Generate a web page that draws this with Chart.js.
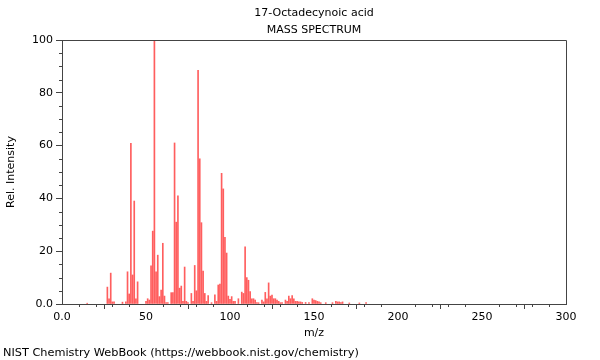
<!DOCTYPE html>
<html>
<head>
<meta charset="utf-8">
<script src="https://cdn.jsdelivr.net/npm/chart.js@4"></script>
<style>
  body { margin: 0; background: #fff; }
  #wrap { width: 600px; height: 360px; position: relative; }
</style>
</head>
<body>
<div id="wrap"><canvas id="myChart"></canvas></div>
<script>
// m/z values and relative intensities
var mz = [
  15, 27, 28, 29, 30, 31, 36, 38, 39, 40, 41, 42, 43, 44, 45, 50, 51, 52, 53, 54,
  55, 56, 57, 58, 59, 60, 61, 62, 63, 65, 66, 67, 68, 69, 70, 71, 72, 73, 74, 75,
  77, 78, 79, 80, 81, 82, 83, 84, 85, 86, 87, 89, 91, 92, 93, 94, 95, 96, 97, 98,
  99, 100, 101, 102, 103, 105, 107, 108, 109, 110, 111, 112, 113, 114, 115, 116, 117, 119, 120, 121,
  122, 123, 124, 125, 126, 127, 128, 129, 130, 131, 133, 134, 135, 136, 137, 138, 139, 140, 141, 142,
  143, 145, 147, 149, 150, 151, 152, 153, 154, 157, 161, 163, 164, 165, 166, 167, 171, 177, 181,
];
var intensity = [
  0.3, 6.4, 2, 11.7, 0.8, 0.8, 0.7, 0.8, 12.2, 3.8, 60.9, 11, 39, 2, 8.4, 1, 2, 1.5, 14.5, 27.6,
  100, 12.2, 18.5, 2.8, 5.3, 23, 3, 0.5, 0.5, 4.3, 4.3, 61, 31, 41, 6, 6.8, 1, 14, 1, 0.5,
  4, 1, 14.6, 5, 88.5, 55, 30.8, 12.5, 4, 1, 3.2, 0.5, 3.5, 1, 7.2, 7.5, 49.5, 43.6, 25.3, 19.3,
  3, 1.8, 2.8, 1, 1, 2, 4.5, 4, 21.7, 10, 9, 4.7, 2, 2, 1.5, 0.5, 0.5, 1.5, 0.8, 4.4,
  2, 8, 3, 3.4, 2, 2, 1.5, 1, 0.5, 0.5, 1.5, 1, 3, 2, 3.2, 2, 1, 1, 0.8, 0.8,
  0.6, 0.6, 0.5, 2, 1.5, 1.3, 1, 0.8, 0.5, 0.5, 0.5, 1, 0.8, 0.8, 0.5, 0.8, 0.4, 0.4, 0.5,
];

var xTicks = [0, 50, 100, 150, 200, 250, 300];
var yTicks = [0, 20, 40, 60, 80, 100];

var titleLines = ['17-Octadecynoic acid', 'MASS SPECTRUM'];
var footerText = 'NIST Chemistry WebBook (https://webbook.nist.gov/chemistry)';

var font = 'DejaVu Sans';
var axisColor = '#444';

var points = mz.map(function (m, i) {
  return { x: m, y: intensity[i] };
});

function label(v) {
  return v === 0 ? '0.0' : String(v);
}

// box, minor ticks, titles and footer
var extras = {
  id: 'extras',
  afterDraw: function (chart) {
    var ctx = chart.ctx;
    var a = chart.chartArea;
    var x = chart.scales.x;
    var y = chart.scales.y;
    ctx.save();
    ctx.strokeStyle = axisColor;
    ctx.lineWidth = 1;
    ctx.beginPath();
    ctx.moveTo(a.left + 0.5, a.top + 0.5);
    ctx.lineTo(a.right + 0.5, a.top + 0.5);
    ctx.lineTo(a.right + 0.5, a.bottom + 0.5);
    ctx.stroke();

    ctx.beginPath();
    for (var v = 0; v <= 300; v += 10) {
      if (v % 50 === 0) continue;
      var px = Math.round(x.getPixelForValue(v)) + 0.5;
      ctx.moveTo(px, a.bottom);
      ctx.lineTo(px, a.bottom + 3);
    }
    for (var w = 0; w <= 100; w += 5) {
      if (w % 20 === 0) continue;
      var py = Math.round(y.getPixelForValue(w)) + 0.5;
      ctx.moveTo(a.left - 3, py);
      ctx.lineTo(a.left, py);
    }
    ctx.stroke();

    ctx.fillStyle = '#000';
    ctx.font = '11px "' + font + '"';
    ctx.textAlign = 'center';
    ctx.textBaseline = 'middle';
    var cx = (a.left + a.right) / 2;
    ctx.fillText(titleLines[0], cx, 13);
    ctx.fillText(titleLines[1], cx, 30);
    ctx.font = '11.3px "' + font + '"';
    ctx.textAlign = 'left';
    ctx.fillText(footerText, 3, 353);
    ctx.restore();
  },
};

var ctx = document.getElementById('myChart').getContext('2d');
var myChart = new Chart(ctx, {
  type: 'bar',
  data: {
    datasets: [
      {
        data: points,
        backgroundColor: 'rgba(255, 40, 40, 0.75)',
        borderWidth: 0,
        barThickness: 1,
      },
    ],
  },
  options: {
    responsive: true,
    maintainAspectRatio: false,
    animation: false,
    layout: { padding: { top: 40, right: 34, bottom: 20, left: 0 } },
    plugins: {
      legend: { display: false },
      tooltip: { enabled: false },
      title: { display: false },
    },
    scales: {
      x: {
        type: 'linear',
        min: 0,
        max: 300,
        offset: false,
        afterFit: function (s) { s.height = 36; },
        afterBuildTicks: function (s) {
          s.ticks = xTicks.map(function (v) { return { value: v }; });
        },
        ticks: {
          color: '#000',
          font: { family: font, size: 11 },
          padding: 2,
          maxRotation: 0,
          autoSkip: false,
          callback: label,
        },
        grid: {
          drawOnChartArea: false,
          drawTicks: true,
          tickLength: 5,
          color: axisColor,
        },
        border: { display: true, color: axisColor },
        title: {
          display: true,
          text: 'm/z',
          color: '#000',
          font: { family: font, size: 11 },
          padding: { top: 0, bottom: 0 },
        },
      },
      y: {
        min: 0,
        max: 100,
        afterFit: function (s) { s.width = 62; },
        afterBuildTicks: function (s) {
          s.ticks = yTicks.map(function (v) { return { value: v }; });
        },
        ticks: {
          color: '#000',
          font: { family: font, size: 11 },
          padding: 3,
          callback: label,
        },
        grid: {
          drawOnChartArea: false,
          drawTicks: true,
          tickLength: 6,
          color: axisColor,
        },
        border: { display: true, color: axisColor },
        title: {
          display: true,
          text: 'Rel. Intensity',
          color: '#000',
          font: { family: font, size: 11 },
          padding: { top: 5, bottom: 0 },
        },
      },
    },
  },
  plugins: [extras],
});
</script>
</body>
</html>
